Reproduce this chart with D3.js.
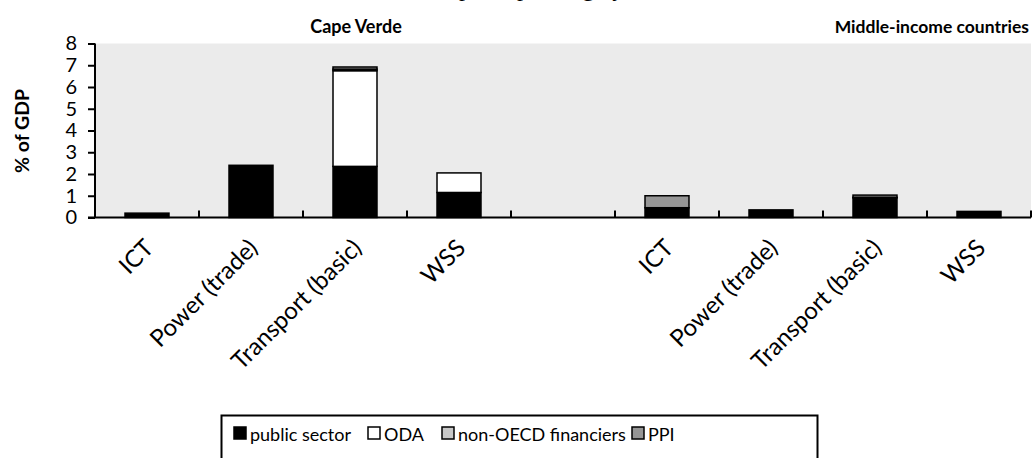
<!DOCTYPE html>
<html>
<head>
<meta charset="utf-8">
<script src="https://cdn.jsdelivr.net/npm/d3@7/dist/d3.min.js"></script>
<style>
  html, body { margin: 0; padding: 0; background: #ffffff; }
  svg { display: block; }
</style>
</head>
<body>
<svg id="chart" width="1033" height="458"></svg>
<script>
// ---- data ----
const titleText = "Capital spending by sector";
const groupLabels = ["Cape Verde", "Middle-income countries"];
const categoryIds = ["cv_ict", "cv_pow", "cv_tra", "cv_wss", "gap", "mic_ict", "mic_pow", "mic_tra", "mic_wss"];
const categoryLabels = ["ICT", "Power (trade)", "Transport (basic)", "WSS", "", "ICT", "Power (trade)", "Transport (basic)", "WSS"];
const seriesNames = ["public sector", "ODA", "non-OECD financiers", "PPI"];
const publicSector = [0.2, 2.4, 2.35, 1.15, 0, 0.45, 0.35, 0.9, 0.28];
const oda          = [0, 0, 4.4, 0.9, 0, 0, 0, 0.03, 0];
const nonOecd      = [0, 0, 0.07, 0, 0, 0, 0, 0, 0];
const ppi          = [0, 0, 0.1, 0, 0, 0.55, 0, 0.1, 0];
const yTicks = [0, 1, 2, 3, 4, 5, 6, 7, 8];
const yLabel = "% of GDP";
const seriesColors = ["#000000", "#ffffff", "#c8c8c8", "#969696"];

// ---- layout ----
const svg = d3.select("#chart");
const plot = { left: 95, right: 1031, top: 43.5, bottom: 217.5 };
const font = "Lato, 'Open Sans', sans-serif";

const x = d3.scaleBand().domain(categoryIds).range([plot.left, plot.right])
  .paddingInner(0.577).paddingOuter(0.2885);
const y = d3.scaleLinear().domain([0, 8]).range([plot.bottom, plot.top]);

// background
svg.append("rect").attr("x", plot.left).attr("y", plot.top)
  .attr("width", plot.right - plot.left).attr("height", plot.bottom - plot.top)
  .attr("fill", "#ebebeb");

// title (cut off at the top, as in the reference)
svg.append("text").attr("x", 560).attr("y", -4)
  .attr("text-anchor", "middle").attr("font-family", "'Liberation Serif', serif")
  .attr("font-size", 24).text(titleText);

// group labels
svg.append("text").attr("x", 356).attr("y", 33).attr("text-anchor", "middle")
  .attr("font-family", font).attr("font-weight", "bold").attr("font-size", 18)
  .text(groupLabels[0]);
svg.append("text").attr("x", 1029).attr("y", 33).attr("text-anchor", "end")
  .attr("font-family", font).attr("font-weight", "bold").attr("font-size", 17.5)
  .text(groupLabels[1]);

// stacked bars
const rows = categoryIds.map((id, i) => ({ id, values: [publicSector[i], oda[i], nonOecd[i], ppi[i]] }));
const segs = [];
rows.forEach(r => {
  let acc = 0;
  r.values.forEach((v, k) => {
    if (v > 0) segs.push({ id: r.id, k, y0: acc, y1: acc + v });
    acc += v;
  });
});
svg.append("g").selectAll("rect").data(segs).join("rect")
  .attr("x", d => x(d.id))
  .attr("width", x.bandwidth())
  .attr("y", d => y(d.y1))
  .attr("height", d => y(d.y0) - y(d.y1))
  .attr("fill", d => seriesColors[d.k])
  .attr("stroke", "#000").attr("stroke-width", 1.5);

// y axis
const yAxis = svg.append("g").attr("transform", `translate(${plot.left},0)`)
  .call(d3.axisLeft(y).tickValues(yTicks).tickSize(7).tickPadding(11).tickFormat(d3.format("d")));
yAxis.select(".domain").attr("stroke-width", 2).attr("d", `M0,${plot.top}V${plot.bottom}`);
yAxis.selectAll(".tick line").attr("stroke-width", 2);
yAxis.selectAll("text").attr("font-family", font).attr("font-size", 20).attr("fill", "#000");

// x axis baseline + inner ticks at category boundaries
const step = x.step();
const boundaries = d3.range(categoryIds.length + 1).map(i => plot.left + i * step);
const xAxisG = svg.append("g");
xAxisG.append("line").attr("x1", plot.left - 7).attr("x2", plot.right)
  .attr("y1", plot.bottom).attr("y2", plot.bottom)
  .attr("stroke", "#000").attr("stroke-width", 2);
xAxisG.selectAll("line.tk").data(boundaries.slice(1)).join("line").attr("class", "tk")
  .attr("x1", d => d).attr("x2", d => d)
  .attr("y1", plot.bottom).attr("y2", plot.bottom - 7)
  .attr("stroke", "#000").attr("stroke-width", 2);

// x labels rotated
svg.append("g").selectAll("text").data(categoryIds).join("text")
  .attr("transform", d => `translate(${x(d) + x.bandwidth() / 2 + 8},${plot.bottom + 32}) rotate(-45)`)
  .attr("text-anchor", "end")
  .attr("font-family", font).attr("font-size", 24)
  .text((d, i) => categoryLabels[i]);

// y label
svg.append("text").attr("transform", `translate(29,131) rotate(-90)`)
  .attr("text-anchor", "middle").attr("font-family", font)
  .attr("font-weight", "bold").attr("font-size", 19.5).text(yLabel);

// legend
const lg = svg.append("g");
lg.append("rect").attr("x", 221.5).attr("y", 415.5).attr("width", 596).attr("height", 60)
  .attr("fill", "#fff").attr("stroke", "#000").attr("stroke-width", 2);
const legendX = [234, 368, 442, 632];
seriesNames.forEach((name, k) => {
  lg.append("rect").attr("x", legendX[k]).attr("y", 427).attr("width", 12).attr("height", 12)
    .attr("fill", seriesColors[k]).attr("stroke", "#000").attr("stroke-width", 1.5);
  lg.append("text").attr("x", legendX[k] + 16).attr("y", 441)
    .attr("font-family", font).attr("font-size", 18).text(name);
});
</script>
</body>
</html>
